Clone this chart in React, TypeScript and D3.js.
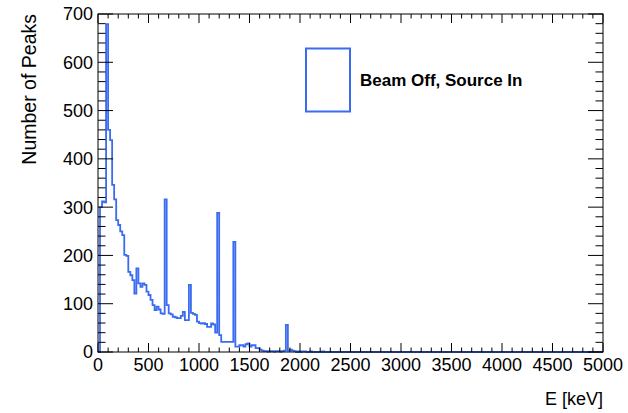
import React from "react";
import * as d3 from "d3";

// Histogram: 20 keV bins starting at 0 keV (counts per bin)
const binWidth = 20;
const counts: number[] = [
  0, 300, 312, 310, 679, 460, 439, 346, 316, 273,
  263, 250, 242, 201, 199, 166, 159, 149, 121, 173,
  142, 135, 142, 139, 125, 118, 108, 97, 87, 94,
  88, 80, 79, 316, 97, 80, 78, 73, 72, 70,
  70, 75, 83, 66, 66, 139, 81, 79, 77, 63,
  60, 59, 60, 58, 52, 52, 59, 57, 40, 288,
  35, 21, 21, 21, 21, 21, 21, 228, 11, 11,
  14, 14, 11, 16, 18, 11, 14, 14, 8, 8,
  5, 3, 2, 2, 1, 2, 2, 1, 2, 2,
  1, 2, 3, 56, 3, 5, 3, 2, 0, 1,
  0, 1, 1, 0, 0, 1, 0, 0, 0, 0,
  0, 1, 0, 0, 0, 0, 0, 0, 0, 0,
];
const xDomain = [0, 5000];
const yDomain = [0, 700];
const xMajorTicks = [0, 500, 1000, 1500, 2000, 2500, 3000, 3500, 4000, 4500, 5000];
const yMajorTicks = [0, 100, 200, 300, 400, 500, 600, 700];
const xMinorStep = 100;
const yMinorStep = 20;
const xTitle = "E [keV]";
const yTitle = "Number of Peaks";
const legendLabel = "Beam Off, Source In";

const W = 628;
const H = 413;
const L = 98, R = 603, T = 14, B = 352;
const BLUE = "#3b6cf0";
const FONT = "'Liberation Sans', Arial, Helvetica, sans-serif";

export default function App() {
  const x = d3.scaleLinear().domain(xDomain).range([L, R]);
  const y = d3.scaleLinear().domain(yDomain).range([B, T]);

  const pts: [number, number][] = [[0, 0]];
  counts.forEach((c, i) => {
    pts.push([i * binWidth, c]);
    pts.push([(i + 1) * binWidth, c]);
  });
  pts.push([counts.length * binWidth, 0]);
  pts.push([xDomain[1], 0]);
  const line = d3.line<[number, number]>().x((d) => x(d[0])).y((d) => y(d[1]));

  const xMinor = d3.range(xDomain[0], xDomain[1] + 1, xMinorStep).filter((v) => !xMajorTicks.includes(v));
  const yMinor = d3.range(yDomain[0], yDomain[1] + 1, yMinorStep).filter((v) => !yMajorTicks.includes(v));

  const xMajLen = 9, xMinLen = 4.5, yMajLen = 15, yMinLen = 7.5;

  return (
    <svg width={W} height={H} style={{ position: "fixed", left: 0, top: 0, background: "#fff" }} fontFamily={FONT}>
      <rect x={0} y={0} width={W} height={H} fill="#fff" />
      <path d={line(pts) || ""} fill="none" stroke={BLUE} strokeWidth={1.8} />
      {/* frame */}
      <rect x={L} y={T} width={R - L} height={B - T} fill="none" stroke="#000" strokeWidth={1} />
      {/* x ticks bottom & top */}
      {xMajorTicks.map((v) => (
        <g key={"xM" + v}>
          <line x1={x(v)} x2={x(v)} y1={B} y2={B - xMajLen} stroke="#000" />
          <line x1={x(v)} x2={x(v)} y1={T} y2={T + xMajLen} stroke="#000" />
          <text x={x(v)} y={371} textAnchor="middle" fontSize={18} fill="#000">{v}</text>
        </g>
      ))}
      {xMinor.map((v) => (
        <g key={"xm" + v}>
          <line x1={x(v)} x2={x(v)} y1={B} y2={B - xMinLen} stroke="#000" />
          <line x1={x(v)} x2={x(v)} y1={T} y2={T + xMinLen} stroke="#000" />
        </g>
      ))}
      {/* y ticks left & right */}
      {yMajorTicks.map((v) => (
        <g key={"yM" + v}>
          <line x1={L} x2={L + yMajLen} y1={y(v)} y2={y(v)} stroke="#000" />
          <line x1={R} x2={R - yMajLen} y1={y(v)} y2={y(v)} stroke="#000" />
          <text x={93} y={y(v)} dy="0.36em" textAnchor="end" fontSize={18} fill="#000">{v}</text>
        </g>
      ))}
      {yMinor.map((v) => (
        <g key={"ym" + v}>
          <line x1={L} x2={L + yMinLen} y1={y(v)} y2={y(v)} stroke="#000" />
          <line x1={R} x2={R - yMinLen} y1={y(v)} y2={y(v)} stroke="#000" />
        </g>
      ))}
      {/* axis titles */}
      <text x={R} y={405} textAnchor="end" fontSize={18} fill="#000">{xTitle}</text>
      <text transform={`translate(36, ${T}) rotate(-90)`} textAnchor="end" fontSize={19.5} fill="#000">{yTitle}</text>
      {/* legend */}
      <rect x={306} y={48.5} width={44} height={63} fill="none" stroke={BLUE} strokeWidth={2} />
      <text x={360} y={86} fontSize={17} fontWeight="bold" fill="#000">{legendLabel}</text>
    </svg>
  );
}
